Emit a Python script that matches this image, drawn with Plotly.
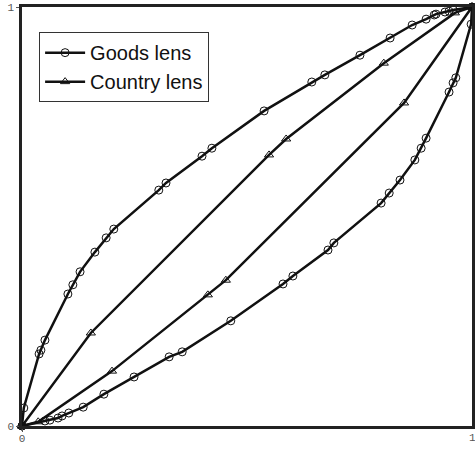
import plotly.graph_objects as go

# Goods lens: upper and lower curves (circles)
goods_up_x = [0, 0.004, 0.038, 0.042, 0.051, 0.102, 0.113, 0.129, 0.162, 0.187, 0.204,
              0.304, 0.320, 0.400, 0.422, 0.538, 0.644, 0.673, 0.751, 0.818, 0.867,
              0.898, 0.916, 0.920, 0.940, 0.949, 0.958, 1.0]
goods_up_y = [0, 0.043, 0.172, 0.181, 0.205, 0.315, 0.337, 0.368, 0.415, 0.449, 0.470,
              0.563, 0.580, 0.644, 0.663, 0.752, 0.821, 0.838, 0.885, 0.926, 0.957,
              0.971, 0.981, 0.983, 0.988, 0.990, 0.993, 1.0]

goods_lo_x = [0, 0.051, 0.062, 0.080, 0.089, 0.104, 0.136, 0.182, 0.249, 0.327, 0.356,
              0.464, 0.580, 0.602, 0.680, 0.693, 0.798, 0.816, 0.840, 0.873, 0.887,
              0.898, 0.949, 0.958, 0.964, 0.998, 1.0]
goods_lo_y = [0, 0.012, 0.014, 0.019, 0.024, 0.031, 0.045, 0.076, 0.117, 0.165, 0.177,
              0.251, 0.339, 0.358, 0.420, 0.437, 0.532, 0.556, 0.587, 0.635, 0.663,
              0.687, 0.797, 0.819, 0.831, 0.959, 1.0]

# Country lens: upper and lower curves (triangles)
country_up_x = [0, 0.153, 0.549, 0.587, 0.804, 0.962, 1.0]
country_up_y = [0, 0.222, 0.647, 0.685, 0.866, 0.986, 1.0]

country_lo_x = [0, 0.036, 0.200, 0.413, 0.453, 0.849, 1.0]
country_lo_y = [0, 0.010, 0.131, 0.313, 0.348, 0.771, 1.0]

tick_vals = [0, 1]
tick_text = ["0", "1"]

line_col = "#111111"
tick_font = dict(family="Liberation Mono", size=11, color="#555555")

fig = go.Figure()

fig.add_trace(go.Scatter(
    x=goods_up_x, y=goods_up_y, mode="lines+markers", name="Goods lens",
    legendgroup="goods", showlegend=True, cliponaxis=False,
    line=dict(color=line_col, width=2.5),
    marker=dict(symbol="circle-open", size=8, color=line_col, line=dict(width=1))
))
fig.add_trace(go.Scatter(
    x=goods_lo_x, y=goods_lo_y, mode="lines+markers", name="Goods lens",
    legendgroup="goods", showlegend=False, cliponaxis=False,
    line=dict(color=line_col, width=2.5),
    marker=dict(symbol="circle-open", size=8, color=line_col, line=dict(width=1))
))
fig.add_trace(go.Scatter(
    x=country_up_x, y=country_up_y, mode="lines+markers", name="Country lens",
    legendgroup="country", showlegend=True, cliponaxis=False,
    line=dict(color=line_col, width=2.5),
    marker=dict(symbol="triangle-up-open", size=8, color=line_col, line=dict(width=1))
))
fig.add_trace(go.Scatter(
    x=country_lo_x, y=country_lo_y, mode="lines+markers", name="Country lens",
    legendgroup="country", showlegend=False, cliponaxis=False,
    line=dict(color=line_col, width=2.5),
    marker=dict(symbol="triangle-up-open", size=8, color=line_col, line=dict(width=1))
))

axis_style = dict(
    range=[0, 1], automargin=False,
    showgrid=False, zeroline=False, showline=True, mirror=True,
    linecolor="#222222", linewidth=2.5, ticks="outside", ticklen=3,
    tickcolor="#555555", tickfont=tick_font
)

fig.update_xaxes(axis_style, tickvals=tick_vals[:1], ticktext=tick_text[:1],
                 ticklabelstandoff=-3)
fig.update_yaxes(axis_style, tickvals=tick_vals, ticktext=tick_text)

# the x "1" label sits on the window edge, plotly drops it as a tick label
fig.add_annotation(x=tick_vals[1], y=0, xref="x", yref="paper", text=tick_text[1],
                   showarrow=False, yanchor="top", xanchor="center", yshift=-4,
                   font=tick_font)

fig.update_layout(
    width=475, height=449,
    margin=dict(l=22, r=3, t=7, b=23, autoexpand=False),
    plot_bgcolor="white", paper_bgcolor="white",
    legend=dict(
        x=0.038, y=0.94, xanchor="left", yanchor="top",
        tracegroupgap=0, itemwidth=40,
        bgcolor="white", bordercolor="#333333", borderwidth=1,
        font=dict(family="Liberation Sans", size=20, color="#111111")
    )
)

# drop the default page margin so the figure sits at the window's corner
fig.write_html("out.html", config={"displayModeBar": False},
               post_script="document.body.style.margin='0';")
